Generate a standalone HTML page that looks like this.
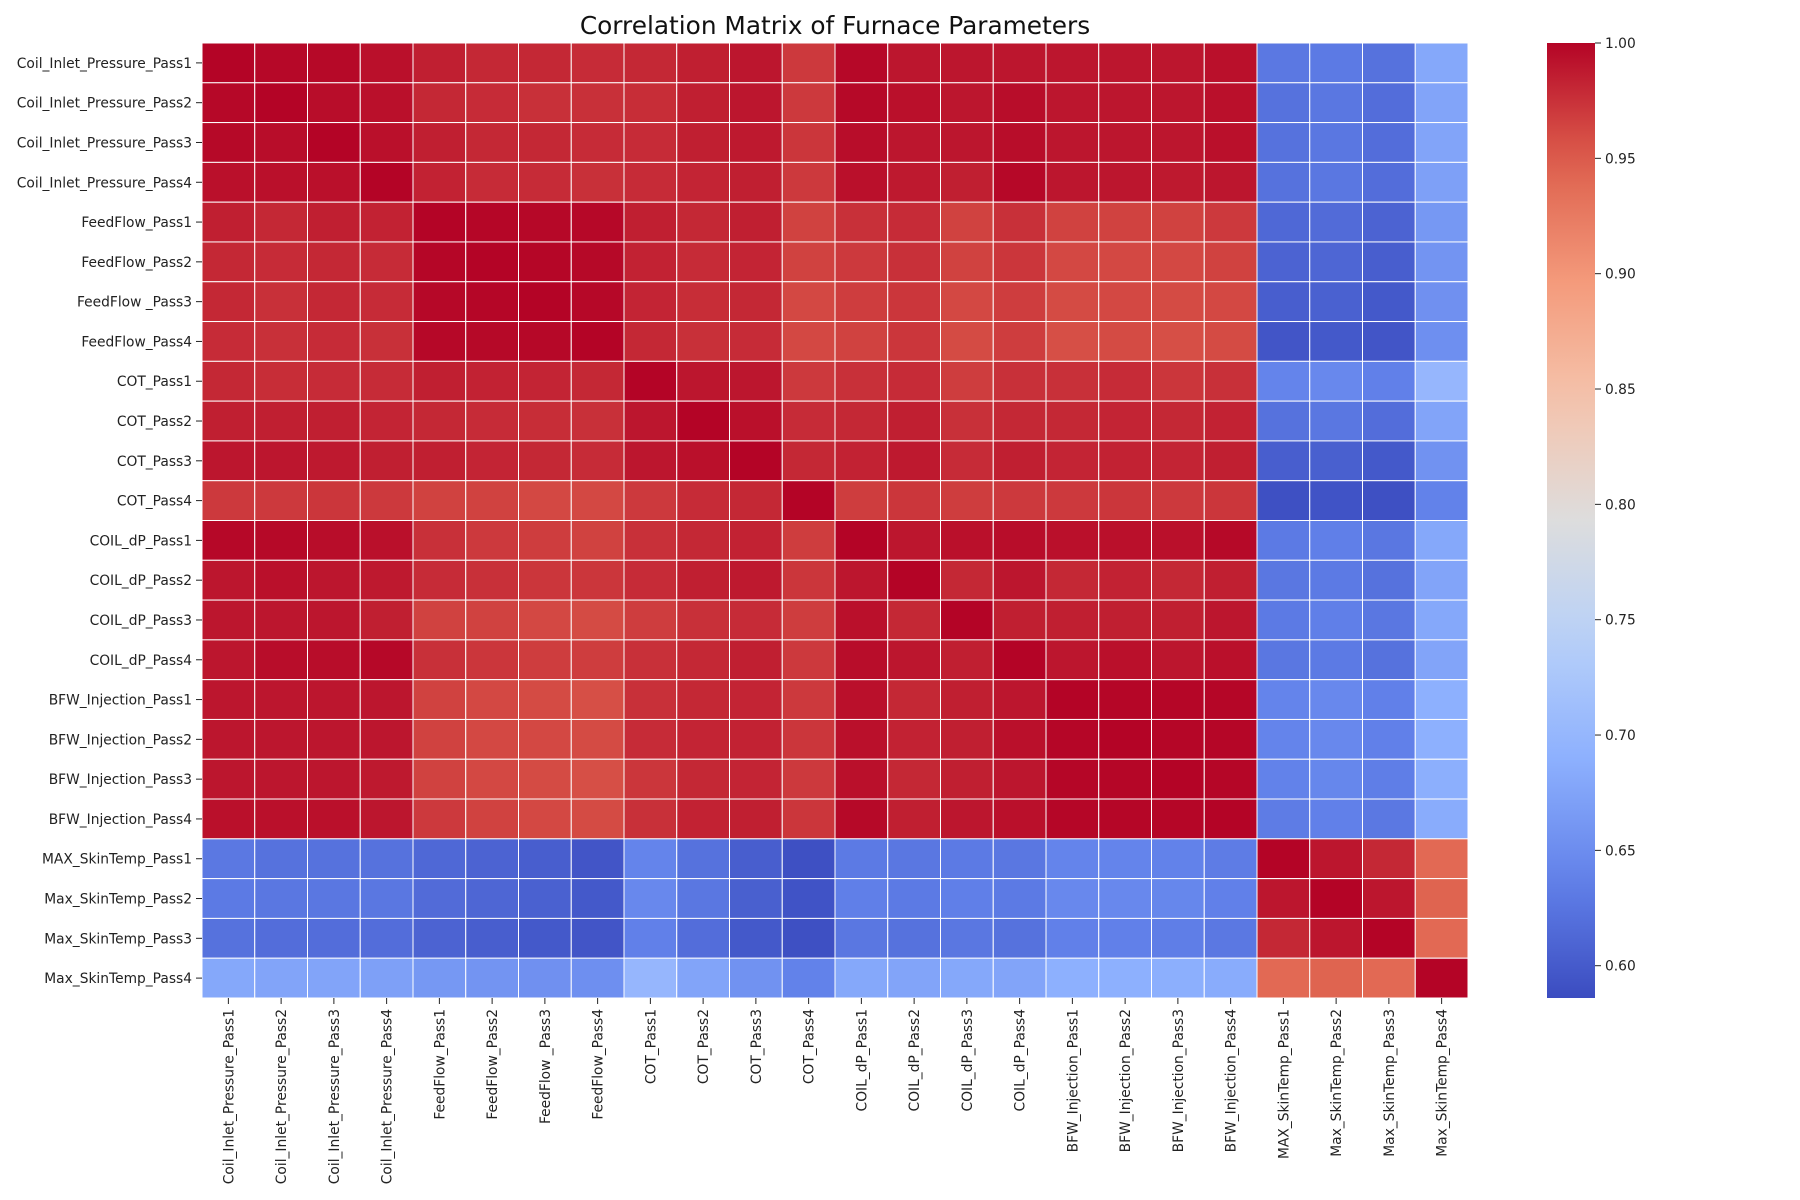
<!DOCTYPE html>
<html><head><meta charset="utf-8"><style>
body{margin:0;background:#fff;}
svg{display:block;font-family:"DejaVu Sans","Liberation Sans",sans-serif;}
</style></head><body>
<svg id="chart" width="1800" height="1200" xmlns="http://www.w3.org/2000/svg">
<text x="835" y="34" text-anchor="middle" font-size="24.8" fill="#111">Correlation Matrix of Furnace Parameters</text>
<g id="cells"></g>
<g id="ylabels"></g>
<g id="xlabels"></g>
<defs><linearGradient id="cbgrad" x1="0" y1="1" x2="0" y2="0"></linearGradient></defs>
<rect x="1547" y="43" width="48" height="955" fill="url(#cbgrad)"/>
<g id="cbticks"></g>
</svg>
<script>
const labels = ["Coil_Inlet_Pressure_Pass1","Coil_Inlet_Pressure_Pass2","Coil_Inlet_Pressure_Pass3","Coil_Inlet_Pressure_Pass4","FeedFlow_Pass1","FeedFlow_Pass2","FeedFlow _Pass3","FeedFlow_Pass4","COT_Pass1","COT_Pass2","COT_Pass3","COT_Pass4","COIL_dP_Pass1","COIL_dP_Pass2","COIL_dP_Pass3","COIL_dP_Pass4","BFW_Injection_Pass1","BFW_Injection_Pass2","BFW_Injection_Pass3","BFW_Injection_Pass4","MAX_SkinTemp_Pass1","Max_SkinTemp_Pass2","Max_SkinTemp_Pass3","Max_SkinTemp_Pass4"];
// upper-triangle rows (row i starts at column i)
const upperRows = [
[1,.998,.997,.993,.985,.98,.98,.978,.98,.985,.99,.97,.998,.99,.99,.99,.99,.99,.99,.993,.628,.63,.622,.68],
[1,.995,.993,.98,.978,.975,.975,.977,.985,.99,.97,.997,.993,.99,.995,.99,.99,.99,.993,.622,.627,.618,.676],
[1,.993,.985,.98,.98,.978,.978,.985,.988,.972,.995,.99,.99,.995,.99,.99,.99,.993,.622,.627,.618,.676],
[1,.983,.978,.978,.975,.978,.982,.985,.97,.993,.988,.985,.998,.99,.99,.988,.99,.622,.627,.618,.672],
[1,.999,.998,.998,.985,.98,.985,.965,.975,.978,.965,.975,.965,.965,.965,.97,.613,.616,.608,.662],
[1,.999,.997,.983,.978,.982,.965,.97,.975,.965,.972,.962,.962,.962,.965,.608,.611,.603,.658],
[1,.998,.982,.977,.98,.962,.968,.972,.962,.968,.96,.962,.96,.962,.603,.606,.598,.654],
[1,.98,.975,.978,.962,.965,.972,.96,.968,.958,.96,.958,.96,.595,.598,.595,.652],
[1,.99,.99,.97,.975,.978,.968,.975,.975,.978,.972,.975,.64,.645,.636,.70],
[1,.993,.978,.98,.985,.975,.98,.98,.982,.98,.983,.622,.627,.618,.676],
[1,.98,.983,.988,.978,.985,.982,.983,.982,.985,.603,.605,.598,.656],
[1,.968,.972,.968,.97,.97,.972,.97,.972,.59,.593,.59,.638],
[1,.99,.993,.995,.993,.993,.993,.997,.63,.635,.627,.68],
[1,.98,.99,.98,.983,.98,.985,.627,.63,.622,.676],
[1,.985,.985,.985,.985,.99,.63,.635,.627,.68],
[1,.99,.993,.99,.993,.627,.63,.622,.676],
[1,.999,.999,.999,.64,.645,.636,.69],
[1,.999,.999,.64,.645,.636,.69],
[1,.999,.638,.643,.634,.688],
[1,.632,.636,.628,.685],
[1,.99,.98,.94],
[1,.99,.945],
[1,.94],
[1]
];
const cbTicks = [0.60,0.65,0.70,0.75,0.80,0.85,0.90,0.95,1.00];
const vmin = 0.586, vmax = 1.0;
const X0=202, Y0=43, W=1266, H=955, n=labels.length, cw=W/n, ch=H/n;
const stops=[[0,59,76,192],[.125,98,130,234],[.25,141,176,254],[.375,184,208,249],[.5,221,221,221],[.625,245,196,173],[.75,244,154,123],[.875,222,96,77],[1,180,4,38]];
function cmap(v){let t=Math.max(0,Math.min(1,(v-vmin)/(vmax-vmin)));for(let i=1;i<stops.length;i++){if(t<=stops[i][0]){const a=stops[i-1],b=stops[i],f=(t-a[0])/(b[0]-a[0]);return `rgb(${[1,2,3].map(k=>Math.round(a[k]+(b[k]-a[k])*f)).join(',')})`;}}return 'rgb(180,4,38)';}
function getVal(i,j){return i<=j?upperRows[i][j-i]:upperRows[j][i-j];}
const NS="http://www.w3.org/2000/svg";
function mk(t,a){const e=document.createElementNS(NS,t);for(const k in a)e.setAttribute(k,a[k]);return e;}
const cells=document.getElementById('cells');
for(let i=0;i<n;i++)for(let j=0;j<n;j++){
 const r=mk('rect',{x:X0+j*cw,y:Y0+i*ch,width:cw,height:ch,fill:cmap(getVal(i,j)),stroke:'#fff','stroke-width':1});
 
 
 cells.appendChild(r);}
const yl=document.getElementById('ylabels'), xl=document.getElementById('xlabels');
labels.forEach((l,i)=>{
 const y=Y0+(i+.5)*ch;
 yl.appendChild(mk('line',{x1:196,x2:202,y1:y,y2:y,stroke:'#222'}));
 const t=mk('text',{x:192,y:y+5,'text-anchor':'end','font-size':13.8,fill:'#222'});t.textContent=l;
 
 
 yl.appendChild(t);
 const x=X0+(i+.5)*cw;
 xl.appendChild(mk('line',{x1:x,x2:x,y1:998,y2:1004,stroke:'#222'}));
 const u=mk('text',{x:0,y:0,'text-anchor':'end','font-size':13.8,fill:'#222',transform:`translate(${x+5},1009) rotate(-90)`});u.textContent=l;
 
 
 xl.appendChild(u);
});
const g=document.getElementById('cbgrad');
for(let k=0;k<=20;k++){const v=vmin+(vmax-vmin)*k/20;g.appendChild(mk('stop',{offset:k/20,'stop-color':cmap(v)}));}
const cb=document.getElementById('cbticks');
cbTicks.forEach(v=>{const y=998-(v-vmin)/(vmax-vmin)*955;
 cb.appendChild(mk('line',{x1:1595,x2:1601,y1:y,y2:y,stroke:'#222'}));
 const t=mk('text',{x:1605,y:y+5,'font-size':13.8,fill:'#222'});t.textContent=v.toFixed(2);
 
 
 cb.appendChild(t);});
</script>
</body></html>
